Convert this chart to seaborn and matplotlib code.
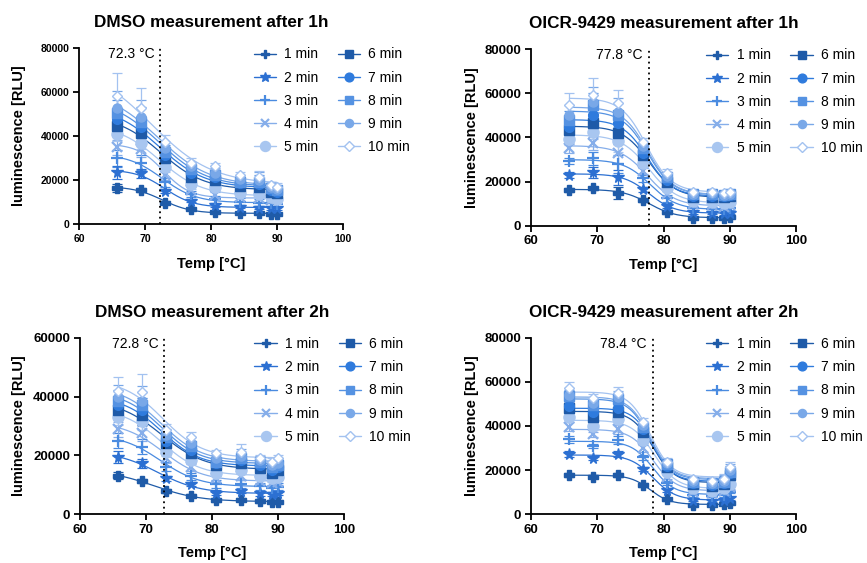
import numpy as np
import pandas as pd
import matplotlib
matplotlib.use("Agg")
import matplotlib.pyplot as plt
from matplotlib.lines import Line2D
import seaborn as sns

temps = [65.8, 69.4, 73.1, 76.9, 80.6, 84.4, 87.3, 89.1, 90.0]
series_labels = ["1 min", "2 min", "3 min", "4 min", "5 min",
                 "6 min", "7 min", "8 min", "9 min", "10 min"]

titles = ["DMSO measurement after 1h", "OICR-9429 measurement after 1h",
          "DMSO measurement after 2h", "OICR-9429 measurement after 2h"]
tm_values = [72.3, 77.8, 72.8, 78.4]
y_max = [80000, 80000, 60000, 80000]

# ---- means (rows = 1..10 min, cols = temps) ----
dmso_1h = [
    [16200, 15450, 9700, 6800, 5600, 5150, 5000, 4400, 4400],
    [23500, 23000, 15000, 10600, 8600, 7900, 7400, 7100, 7100],
    [29800, 27900, 18900, 13600, 11200, 10200, 9700, 9400, 9100],
    [34800, 34100, 22300, 15600, 13200, 12100, 11700, 10900, 11200],
    [40800, 37000, 26100, 18000, 17000, 14200, 13600, 12400, 11200],
    [44500, 41200, 29800, 21500, 20000, 17300, 17000, 14700, 13900],
    [47600, 43900, 31400, 23300, 21200, 18500, 18200, 15500, 14700],
    [50300, 46500, 32900, 24800, 22300, 19200, 19200, 16200, 15500],
    [52600, 48500, 34400, 26400, 23300, 20300, 20000, 16700, 15900],
    [58200, 52600, 37400, 27900, 26400, 22300, 21200, 17700, 17000],
]
oicr_1h = [
    [16100, 16900, 14900, 11600, 6300, 3600, 3600, 3600, 4100],
    [22900, 24100, 21900, 16400, 9100, 6000, 5900, 5600, 5900],
    [29300, 30500, 27900, 21400, 12400, 7800, 7500, 7400, 7800],
    [35000, 37300, 33000, 24700, 14300, 9800, 9400, 8600, 9400],
    [39100, 42600, 38500, 28200, 17200, 11200, 10900, 10100, 10600],
    [43300, 46600, 42100, 32000, 19900, 13100, 12800, 13100, 13600],
    [44800, 50100, 46300, 32700, 20700, 13400, 13400, 13400, 13900],
    [47800, 54600, 50100, 35000, 22200, 14200, 14200, 13900, 14200],
    [50100, 56100, 51600, 36100, 22500, 14300, 14600, 13900, 14300],
    [54600, 59200, 55400, 38000, 23700, 15400, 15400, 14900, 15400],
]
dmso_2h = [
    [13100, 11300, 8000, 6300, 4900, 4900, 4500, 4200, 4200],
    [19400, 17300, 12200, 10200, 7400, 7900, 7100, 6900, 7100],
    [25000, 23000, 16200, 13000, 10300, 10300, 9600, 8800, 9400],
    [28900, 27500, 19000, 16000, 12200, 13000, 11400, 10500, 11000],
    [32900, 31800, 21300, 18500, 14100, 15100, 13000, 12200, 12800],
    [35400, 33700, 24100, 20900, 16800, 17500, 15600, 14100, 15100],
    [37100, 35400, 25000, 21800, 17300, 18500, 16800, 15000, 16000],
    [38600, 37100, 26100, 23200, 17900, 19000, 17900, 16000, 16800],
    [40000, 38600, 26900, 24300, 19000, 19800, 18500, 16800, 17500],
    [42000, 41700, 28600, 26100, 20700, 21300, 19000, 17900, 19000],
]
oicr_2h = [
    [17800, 17100, 17800, 13300, 6800, 4200, 4200, 4500, 5000],
    [27300, 25400, 27300, 20400, 11000, 6500, 6200, 6500, 7200],
    [34000, 30900, 33700, 25800, 14300, 8800, 8500, 8800, 10300],
    [39700, 36200, 38500, 29900, 17100, 10300, 9800, 10700, 12500],
    [43900, 40000, 43000, 33700, 19300, 11800, 10700, 11800, 13700],
    [48000, 44200, 46500, 37400, 21300, 13700, 12800, 13700, 17800],
    [49000, 46500, 48000, 38500, 21900, 14000, 13300, 14300, 18600],
    [53600, 49500, 52100, 39700, 22800, 14800, 14000, 14800, 19300],
    [54000, 50600, 53300, 40400, 23100, 15200, 14400, 15200, 20100],
    [57000, 52500, 55100, 42000, 23800, 15800, 15000, 15800, 21300],
]

# ---- SD (error bars) ----
dmso_1h_sd = [
    [1800, 800, 800, 600, 500, 400, 400, 400, 400],
    [3000, 2000, 1000, 800, 700, 600, 600, 600, 600],
    [4000, 3500, 2000, 1500, 1500, 1500, 1500, 1200, 1200],
    [3500, 3500, 2500, 2000, 1500, 1500, 1500, 1500, 1500],
    [3000, 3000, 2500, 2000, 1800, 1500, 1500, 1500, 1500],
    [4000, 4500, 3000, 2000, 2000, 1500, 2500, 1500, 1500],
    [5000, 5000, 3000, 2000, 2000, 1500, 2500, 1500, 1500],
    [6000, 6500, 3000, 2000, 2000, 1500, 3000, 1500, 1500],
    [8000, 8000, 3000, 2000, 2000, 1500, 3500, 1500, 1500],
    [10500, 9000, 3000, 2000, 1500, 1500, 3000, 1500, 1500],
]
oicr_1h_sd = [
    [800, 800, 2800, 800, 800, 500, 500, 500, 500],
    [1500, 2500, 3500, 1200, 1000, 700, 700, 700, 700],
    [1500, 3000, 4000, 1500, 1500, 800, 800, 800, 800],
    [2000, 3000, 4500, 1500, 1500, 1000, 1000, 1000, 1000],
    [2500, 3500, 5000, 1500, 1500, 1000, 1000, 1000, 1000],
    [3000, 4000, 5000, 1500, 1500, 1000, 1000, 1000, 1000],
    [3500, 4500, 5500, 1500, 1500, 1000, 1000, 1000, 1000],
    [4000, 5500, 5500, 1500, 1500, 1000, 1000, 1000, 1000],
    [4500, 6500, 6000, 1500, 2000, 1000, 1000, 1000, 1000],
    [5500, 7500, 6000, 1500, 2000, 1000, 1000, 1000, 1000],
]
dmso_2h_sd = [
    [1200, 700, 600, 500, 800, 500, 600, 500, 500],
    [2000, 1500, 900, 700, 1000, 800, 800, 700, 700],
    [2500, 2500, 1500, 1200, 1200, 1500, 1200, 1200, 1200],
    [2500, 2500, 1500, 1200, 1200, 1500, 1200, 1200, 1200],
    [2500, 3000, 1500, 1200, 1200, 1500, 1200, 1200, 1200],
    [3000, 3500, 2000, 1500, 1200, 1800, 1200, 1200, 1200],
    [3000, 4000, 2000, 1500, 1200, 2000, 1200, 1200, 1200],
    [3500, 4500, 2000, 1800, 1200, 2000, 1200, 1200, 1200],
    [4000, 5000, 2000, 2000, 1200, 2500, 1200, 1200, 1200],
    [4500, 6000, 2000, 2000, 1200, 2500, 1200, 1200, 1200],
]
oicr_2h_sd = [
    [900, 700, 900, 800, 600, 500, 500, 500, 500],
    [1200, 900, 1200, 1000, 800, 600, 600, 600, 600],
    [1500, 1000, 1800, 1200, 1000, 800, 800, 800, 800],
    [2000, 1200, 2000, 1500, 1200, 800, 800, 800, 1000],
    [2000, 1500, 2000, 1500, 1200, 1000, 1000, 1000, 1500],
    [2200, 1800, 2200, 1500, 1500, 1000, 1000, 1000, 2000],
    [2500, 2000, 2500, 1500, 1500, 1000, 1000, 2000, 2500],
    [2500, 2000, 2500, 1500, 1500, 1000, 1000, 2500, 2500],
    [3000, 2000, 2500, 1500, 1500, 1000, 1000, 2500, 2500],
    [3000, 2000, 2500, 1500, 1500, 1000, 1000, 2500, 2500],
]

panels_mean = [dmso_1h, oicr_1h, dmso_2h, oicr_2h]
panels_sd = [dmso_1h_sd, oicr_1h_sd, dmso_2h_sd, oicr_2h_sd]

colors = ["#1F5BA8", "#2C70D2", "#4A8BE0", "#86AEEA", "#A8C6F0",
          "#1E5AA8", "#2F7BDD", "#5592E2", "#79A8E8", "#A3C2F0"]
markers = ["P", "*", "+", "x", "o", "s", "o", "s", "o", "D"]
msizes = [6.5, 8.5, 8, 6.5, 8, 7, 7, 7, 6.5, 5.5]


def boltzmann_fit(x, y):
    """Grid search for Boltzmann sigmoid; top/bottom solved by least squares."""
    x = np.asarray(x, float)
    y = np.asarray(y, float)
    best = None
    for m in np.linspace(60, 95, 176):
        for s in np.linspace(0.4, 9, 87):
            f = 1.0 / (1.0 + np.exp((x - m) / s))
            A = np.vstack([np.ones_like(f), f]).T
            coef, *_ = np.linalg.lstsq(A, y, rcond=None)
            r = np.sum((A @ coef - y) ** 2)
            if best is None or r < best[0]:
                best = (r, m, s, coef)
    _, m, s, coef = best
    xs = np.linspace(x.min(), x.max(), 200)
    ys = coef[0] + coef[1] / (1.0 + np.exp((xs - m) / s))
    return xs, ys


sns.set_theme(style="ticks")
plt.rcParams["font.family"] = ["Liberation Sans", "DejaVu Sans"]
plt.rcParams["text.color"] = "black"
plt.rcParams["axes.labelcolor"] = "black"
plt.rcParams["xtick.color"] = "black"
plt.rcParams["ytick.color"] = "black"

W, H = 867, 563
fig = plt.figure(figsize=(W / 100, H / 100), dpi=100)
positions = [
    [79 / W, 1 - 224 / H, 264 / W, 176 / H],
    [531 / W, 1 - 225.7 / H, 265 / W, 176.7 / H],
    [79.7 / W, 1 - 514.3 / H, 264.3 / W, 176.6 / H],
    [531 / W, 1 - 514.3 / H, 265 / W, 176.6 / H],
]
# pixel positions of y-label centre x and x-label centre y (figure pixels)
ylabel_x = [19, 472, 19, 472]
xlabel_y = [264, 265, 553, 553]

for p in range(4):
    ax = fig.add_axes(positions[p])
    means = panels_mean[p]
    sds = panels_sd[p]
    for i in range(10):
        xs, ys = boltzmann_fit(temps, means[i])
        df = pd.DataFrame({"x": xs, "y": ys})
        sns.lineplot(data=df, x="x", y="y", ax=ax, color=colors[i],
                     linewidth=0.9, zorder=2)
    for i in range(10):
        face = "white" if markers[i] == "D" else colors[i]
        mew = 1.6 if markers[i] in ("+", "x") else 1.0
        ax.errorbar(temps, means[i], yerr=sds[i], fmt="none",
                    ecolor=colors[i], elinewidth=0.9, capsize=3.5,
                    capthick=0.9, zorder=3)
        ax.plot(temps, means[i], linestyle="none", marker=markers[i],
                markersize=msizes[i], color=colors[i], markerfacecolor=face,
                markeredgecolor=colors[i], markeredgewidth=mew, zorder=4)

    tm = tm_values[p]
    ax.axvline(tm, ymin=0, ymax=1, color="black", linestyle=(0, (1, 2)),
               linewidth=1.3, zorder=5)
    ax.text(tm - 0.9, y_max[p] * 0.965, f"{tm} °C", ha="right", va="center",
            fontsize=10, color="black")

    ax.set_xlim(60, 100)
    ax.set_ylim(0, y_max[p])
    ax.set_xticks([60, 70, 80, 90, 100])
    ax.set_yticks(np.arange(0, y_max[p] + 1, 20000))
    ax.set_xlabel("Temp [°C]", fontsize=10.5, fontweight="bold")
    ax.set_ylabel("luminescence [RLU]", fontsize=10.5, fontweight="bold")
    ax.set_title(titles[p], fontsize=12.3, fontweight="bold", pad=15)
    tick_fs = 7.5 if p == 0 else 9.5
    for lab in ax.get_xticklabels() + ax.get_yticklabels():
        lab.set_fontweight("bold")
        lab.set_fontsize(tick_fs)
    ax.tick_params(axis="both", direction="out", length=4, width=1.3,
                   colors="black", pad=3)
    for sp in ["left", "bottom"]:
        ax.spines[sp].set_linewidth(1.3)
        ax.spines[sp].set_color("black")
    sns.despine(ax=ax)

    # label positions in figure pixels -> axes coords
    x0, y0, w, h = positions[p]
    ax_left_px = x0 * W
    ax_bottom_px_from_top = H - y0 * H
    ax.yaxis.set_label_coords((ylabel_x[p] - ax_left_px) / (w * W), 0.5)
    ax.xaxis.set_label_coords(0.5, -(xlabel_y[p] - ax_bottom_px_from_top) / (h * H))
    ax.xaxis.label.set_va("center")
    ax.yaxis.label.set_va("center")

    handles = []
    for i in range(10):
        face = "white" if markers[i] == "D" else colors[i]
        mew = 1.6 if markers[i] in ("+", "x") else 1.0
        handles.append(Line2D([0], [0], color=colors[i], linewidth=1.0,
                              marker=markers[i], markersize=msizes[i] * 0.9,
                              markerfacecolor=face, markeredgecolor=colors[i],
                              markeredgewidth=mew))
    ax.legend(handles, series_labels, ncol=2, loc="upper left",
              bbox_to_anchor=(0.64, 1.035), frameon=False, fontsize=10,
              handlelength=1.6, handletextpad=0.6, columnspacing=1.4,
              labelspacing=0.66, borderaxespad=0)

fig.savefig("out.png", dpi=100)
